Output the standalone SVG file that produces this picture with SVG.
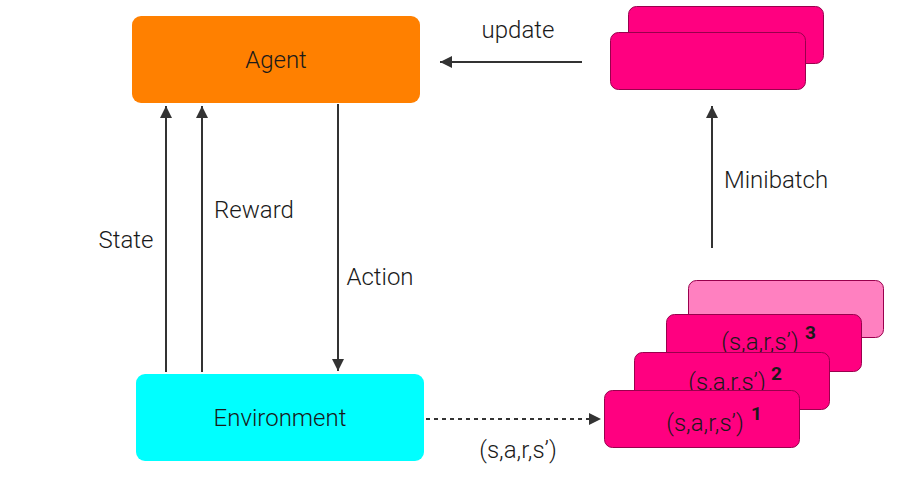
<svg xmlns="http://www.w3.org/2000/svg" width="902" height="480" viewBox="0 0 902 480">
<style>
text{font-family:Roboto,"Liberation Sans",sans-serif;font-weight:300;font-size:24px;fill:#1a1a1a}
.c{text-anchor:middle}
.sup{font-weight:700;font-size:19px}
.pk{fill:#FF0080;stroke:#99004D;stroke-width:1}
.ln{stroke:#333;stroke-width:2;fill:none}
</style>
<defs>
<marker id="ah2" viewBox="0 0 10 10" refX="10" refY="5" markerWidth="12" markerHeight="12" orient="auto" markerUnits="userSpaceOnUse">
<path d="M0,0L10,5L0,10Z" fill="#333"/>
</marker>
</defs>
<g id="agent">
<rect x="132" y="16" width="288" height="87" rx="9" fill="#FF8000"/>
<text class="c" x="276" y="68">Agent</text>
</g>
<g id="environment">
<rect x="136" y="374" width="288" height="87" rx="9" fill="#00FFFF"/>
<text class="c" x="280" y="426">Environment</text>
</g>
<g id="minibatch">
<rect class="pk" x="628.5" y="6.5" width="195" height="57" rx="8"/>
<rect class="pk" x="610.5" y="32.5" width="195" height="57" rx="8"/>
</g>
<g id="replay-buffer">
<rect x="688.5" y="280.5" width="195" height="57" rx="8" fill="#FF80C0" stroke="#99004D" stroke-width="1"/>
<rect class="pk" x="666.5" y="314.5" width="195" height="57" rx="8"/>
<text class="c" x="760" y="350">(s,a,r,s’)</text>
<text class="sup" x="805" y="339">3</text>
<rect class="pk" x="634.5" y="352.5" width="195" height="57" rx="8"/>
<text class="c" x="727" y="390">(s,a,r,s’)</text>
<text class="sup" x="771" y="380">2</text>
<rect class="pk" x="604.5" y="390.5" width="195" height="57" rx="8"/>
<text class="c" x="705" y="431">(s,a,r,s’)</text>
<text class="sup" x="751" y="420">1</text>
</g>
<g id="connectors">
<line class="ln" x1="166" y1="372" x2="166" y2="106" marker-end="url(#ah2)"/>
<line class="ln" x1="202" y1="372" x2="202" y2="106" marker-end="url(#ah2)"/>
<line class="ln" x1="338" y1="104" x2="338" y2="371" marker-end="url(#ah2)"/>
<line class="ln" x1="582" y1="62" x2="440" y2="62" marker-end="url(#ah2)"/>
<line class="ln" x1="712" y1="248" x2="712" y2="106" marker-end="url(#ah2)"/>
<line class="ln" x1="426" y1="419" x2="601" y2="419" stroke-dasharray="4,4" marker-end="url(#ah2)"/>
<text class="c" x="126" y="248">State</text>
<text class="c" x="254" y="218">Reward</text>
<text class="c" x="380" y="285">Action</text>
<text class="c" x="518" y="38">update</text>
<text class="c" x="776" y="188">Minibatch</text>
<text class="c" x="518" y="458">(s,a,r,s’)</text>
</g>
</svg>
